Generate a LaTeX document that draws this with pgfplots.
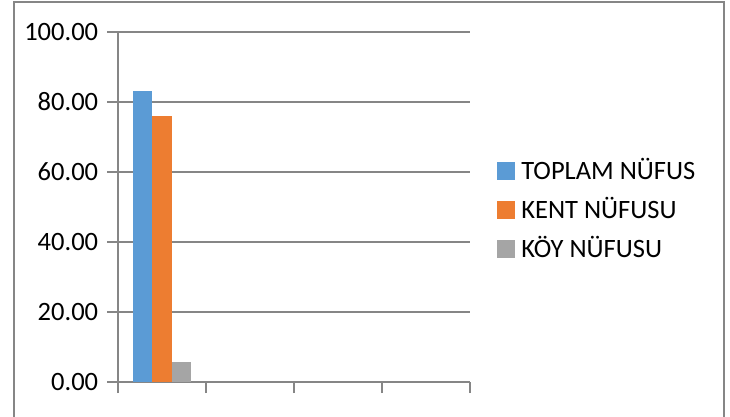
\documentclass[border=0pt]{standalone}
\usepackage{fontspec}
\setmainfont{Carlito}
\usepackage{pgfplots}
\pgfplotsset{compat=1.18}
\definecolor{cblue}{RGB}{91,155,213}
\definecolor{corange}{RGB}{237,125,49}
\definecolor{cgray}{RGB}{165,165,165}
\definecolor{lgray}{RGB}{134,134,134}
\begin{document}
\fontsize{26bp}{30bp}\selectfont
\begin{tikzpicture}[x=1bp,y=1bp]
\useasboundingbox (0,0) rectangle (730,416);
\fill[white] (0,0) rectangle (730,416);
\draw[lgray, line width=2bp] (14,-2) -- (14,414) -- (724,414) -- (724,-2);
\begin{axis}[
  at={(118bp,34bp)}, anchor=origin,
  scale only axis, width=352bp, height=350bp,
  xmin=0, xmax=4, ymin=0, ymax=100,
  axis lines=left, axis line style={lgray, line width=1.5bp, -},
  ybar=0pt, bar width=19.5bp,
  xtick={0,1,2,3,4}, xticklabels={},
  ytick={0,20,40,60,80,100},
  tick style={lgray, line width=1.5bp},
  tick align=outside, major tick length=11bp,
  ymajorgrids, grid style={lgray, line width=1.5bp},
  yticklabel={\pgfmathprintnumber[fixed,fixed zerofill,precision=2,assume math mode=true]{\tick}},
  ticklabel style={font=\fontsize{26.5bp}{30bp}\selectfont},
  clip=false,
  legend style={at={(1.077,0.491)}, anchor=west, draw=none, fill=none,
    inner xsep=0pt, inner ysep=0pt,
    font=\fontsize{26.5bp}{30bp}\selectfont, row sep=14bp,
    nodes={inner xsep=6bp, inner ysep=0bp}},
  legend cell align=left,
  legend image code/.code={\fill[#1] (0bp,-9bp) rectangle (18bp,9bp);},
]
\addplot[fill=cblue, draw=none] coordinates {(0.5,83.0)};
\addplot[fill=corange, draw=none] coordinates {(0.5,76.0)};
\addplot[fill=cgray, draw=none] coordinates {(0.5,5.8)};
\legend{TOPLAM NÜFUS, KENT NÜFUSU, KÖY NÜFUSU}
\end{axis}
\end{tikzpicture}
\end{document}
